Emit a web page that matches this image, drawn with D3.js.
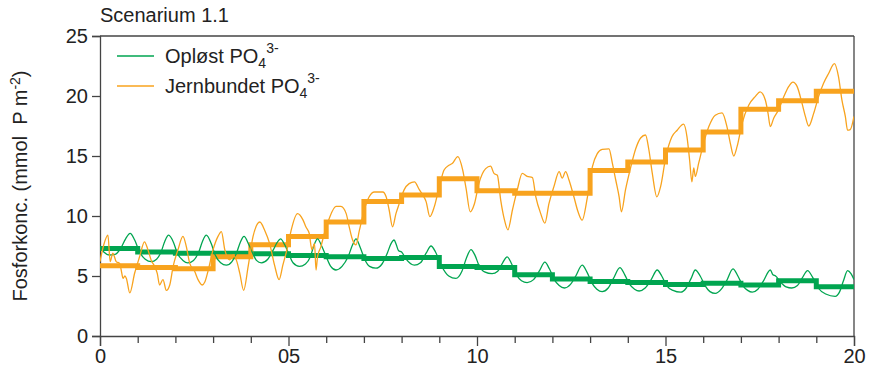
<!DOCTYPE html>
<html><head><meta charset="utf-8">
<script src="https://cdn.jsdelivr.net/npm/d3@7/dist/d3.min.js"></script>
<style>
html,body{margin:0;padding:0;background:#fff;}
svg text{font-family:"Liberation Sans",Arial,sans-serif;fill:#222;}
</style></head>
<body><svg id="c" width="874" height="373"></svg>
<script>
const title = "Scenarium 1.1";
const yTicks = [0, 5, 10, 15, 20, 25];
const xMajorTicks = [0, 5, 10, 15, 20];
const xTickLabels = ["0", "05", "10", "15", "20"];
const xMinorTicks = [1,2,3,4,6,7,8,9,11,12,13,14,16,17,18,19];
const seriesNames = ["Opløst PO", "Jernbundet PO"];
const seriesColors = ["#00a550", "#f8a31e"];

// annual means (step series), years 0..19
const dissolvedAnnual = [7.3, 7.0, 6.9, 6.9, 6.85, 6.7, 6.6, 6.45, 6.55, 5.8, 5.7, 5.1, 4.75, 4.55, 4.45, 4.3, 4.4, 4.25, 4.6, 4.1];
const ironAnnual = [5.85, 5.7, 5.6, 6.6, 7.6, 8.3, 9.5, 11.2, 11.75, 13.1, 12.1, 11.9, 11.9, 13.8, 14.5, 15.5, 17.0, 18.9, 19.6, 20.4];

// seasonal series [year, value]
const dissolvedSeries = [
[0.00,7.4],[0.10,7.0],[0.25,6.75],[0.40,6.8],[0.55,7.3],[0.68,8.1],[0.80,8.55],[0.92,8.0],
[1.05,7.0],[1.20,6.4],[1.36,6.2],[1.50,6.4],[1.62,7.0],[1.72,7.9],[1.82,8.4],[1.95,7.8],
[2.05,6.9],[2.20,6.3],[2.33,6.1],[2.48,6.3],[2.62,7.0],[2.72,7.9],[2.82,8.4],[2.95,7.7],
[3.05,6.8],[3.20,6.1],[3.35,5.9],[3.50,6.2],[3.62,6.9],[3.72,7.8],[3.82,8.3],[3.95,7.6],
[4.05,6.9],[4.15,6.3],[4.28,6.1],[4.45,6.4],[4.60,7.2],[4.70,7.8],[4.79,8.1],[4.90,7.6],
[5.00,6.9],[5.12,6.1],[5.29,5.8],[5.45,6.0],[5.58,6.6],[5.68,7.6],[5.77,8.1],[5.88,7.5],
[6.00,6.6],[6.12,5.8],[6.26,5.5],[6.42,5.8],[6.58,6.6],[6.70,7.6],[6.79,8.1],[6.90,7.4],
[7.02,6.4],[7.15,5.8],[7.32,5.65],[7.48,6.0],[7.62,6.9],[7.72,7.7],[7.80,8.0],[7.86,7.6],[7.92,7.1],
[8.00,7.0],[8.12,6.4],[8.34,5.9],[8.50,6.1],[8.65,6.9],[8.78,7.5],[8.90,7.0],
[9.05,5.9],[9.25,5.0],[9.44,4.8],[9.60,5.4],[9.72,6.5],[9.84,7.2],[9.95,6.7],
[10.05,5.9],[10.20,5.35],[10.40,5.2],[10.55,5.4],[10.68,6.1],[10.80,6.6],[10.92,6.0],
[11.05,5.1],[11.18,4.6],[11.33,4.45],[11.50,4.7],[11.65,5.4],[11.80,6.15],[11.92,5.6],
[12.05,4.7],[12.18,4.2],[12.32,4.0],[12.48,4.3],[12.62,5.0],[12.79,5.9],[12.92,5.3],
[13.05,4.4],[13.18,3.9],[13.32,3.7],[13.48,4.0],[13.62,4.8],[13.79,5.7],[13.92,5.1],
[14.05,4.3],[14.18,3.9],[14.30,3.75],[14.46,4.0],[14.62,4.7],[14.78,5.5],[14.90,5.0],
[15.03,4.2],[15.20,3.8],[15.40,3.65],[15.55,4.0],[15.68,4.8],[15.79,5.5],[15.92,5.0],
[16.05,4.2],[16.18,3.7],[16.32,3.55],[16.48,3.9],[16.62,4.6],[16.79,5.6],[16.92,5.0],
[17.05,4.2],[17.18,3.8],[17.30,3.65],[17.45,3.9],[17.60,4.6],[17.78,5.5],[17.85,5.1],[17.92,5.0],
[18.05,4.5],[18.20,4.1],[18.35,4.0],[18.50,4.2],[18.62,4.8],[18.77,5.45],[18.90,4.9],
[19.05,4.0],[19.25,3.5],[19.50,3.3],[19.62,3.7],[19.72,4.6],[19.83,5.45],[19.92,5.2],[20.00,4.7]
];
const ironSeries = [
[0.00,6.2],[0.10,7.6],[0.21,8.4],[0.27,6.2],[0.34,6.9],[0.43,6.2],[0.52,6.05],[0.58,5.2],[0.61,4.8],[0.66,5.0],[0.70,4.8],[0.79,3.6],[0.92,5.25],
[1.05,6.6],[1.18,7.85],[1.27,7.2],[1.36,6.3],[1.45,5.8],[1.52,5.2],[1.58,4.25],[1.67,4.7],[1.76,3.8],[1.85,4.25],[1.94,5.8],
[2.07,7.2],[2.20,8.3],[2.29,7.45],[2.38,6.05],[2.51,5.4],[2.60,4.7],[2.71,4.25],[2.78,4.5],[2.86,5.35],
[3.00,7.2],[3.13,8.3],[3.22,8.7],[3.31,7.2],[3.44,6.35],[3.53,6.75],[3.62,6.3],[3.71,5.2],[3.81,3.8],[3.93,5.8],
[4.06,8.3],[4.24,9.5],[4.37,8.8],[4.50,7.7],[4.63,5.9],[4.75,4.7],[4.85,5.9],[4.99,7.6],
[5.07,8.8],[5.24,10.2],[5.38,9.7],[5.46,9.1],[5.55,8.55],[5.62,7.2],[5.69,7.7],[5.73,5.5],[5.77,6.6],[5.86,7.45],[5.95,8.55],
[6.08,9.8],[6.26,10.8],[6.39,10.8],[6.53,10.2],[6.61,9.1],[6.70,8.0],[6.79,7.6],[6.88,8.8],
[7.01,10.5],[7.14,11.6],[7.28,12.0],[7.50,12.0],[7.59,11.6],[7.67,10.5],[7.76,9.1],[7.85,10.2],[7.94,11.05],
[8.07,12.2],[8.20,12.7],[8.34,12.85],[8.47,12.2],[8.56,11.75],[8.65,11.2],[8.75,9.95],[8.87,10.8],
[9.00,12.45],[9.13,13.85],[9.27,14.25],[9.35,14.4],[9.49,14.95],[9.62,13.85],[9.71,12.3],[9.82,10.35],[9.93,11.0],
[10.05,12.7],[10.23,13.95],[10.36,14.15],[10.45,13.55],[10.54,13.4],[10.63,11.3],[10.73,9.65],[10.82,8.85],[10.94,10.5],
[11.07,12.2],[11.20,13.55],[11.33,13.3],[11.47,13.2],[11.56,11.6],[11.69,10.2],[11.80,9.4],[11.91,11.05],
[12.04,12.45],[12.18,13.7],[12.26,13.15],[12.35,13.7],[12.44,13.0],[12.57,11.6],[12.68,10.35],[12.79,9.65],[12.93,11.6],
[13.06,14.1],[13.19,15.2],[13.32,15.55],[13.50,15.6],[13.59,14.4],[13.68,13.0],[13.77,11.6],[13.83,10.35],[13.94,12.2],
[14.08,14.1],[14.21,15.6],[14.34,16.5],[14.47,16.75],[14.56,15.5],[14.65,13.55],[14.77,11.6],[14.87,12.45],
[15.01,14.95],[15.17,16.6],[15.31,17.15],[15.48,17.65],[15.57,16.6],[15.64,14.65],[15.70,12.85],[15.75,14.0],[15.79,13.3],[15.88,14.4],
[16.01,16.05],[16.15,17.45],[16.32,18.4],[16.50,18.6],[16.63,17.45],[16.72,16.05],[16.81,15.0],[16.90,15.8],
[17.03,17.7],[17.21,19.25],[17.38,19.95],[17.51,20.35],[17.65,19.65],[17.72,18.55],[17.78,17.45],[17.87,18.15],
[18.00,18.85],[18.14,19.95],[18.27,20.8],[18.38,21.15],[18.49,20.8],[18.62,19.4],[18.71,18.3],[18.80,17.5],[18.93,18.55],
[19.06,19.95],[19.19,21.05],[19.33,21.9],[19.48,22.7],[19.59,21.6],[19.68,19.65],[19.77,18.3],[19.83,17.15],[19.90,17.2],[20.00,18.3]
];

const svg = d3.select("#c");
const x = d3.scaleLinear().domain([0, 20]).range([100, 854]);
const y = d3.scaleLinear().domain([0, 25]).range([336, 36]);
const axisColor = "#444";

// frame: top and right
svg.append("line").attr("x1", x(0)).attr("x2", x(20)).attr("y1", y(25)).attr("y2", y(25)).attr("stroke", axisColor).attr("stroke-width", 1.3);
svg.append("line").attr("x1", x(20)).attr("x2", x(20)).attr("y1", y(25)).attr("y2", y(0)).attr("stroke", axisColor).attr("stroke-width", 1.3);

// y axis
const yAxis = d3.axisLeft(y).tickValues(yTicks).tickSize(8).tickPadding(4).tickFormat(d3.format("d"));
const gy = svg.append("g").attr("transform", `translate(${x(0)},0)`).call(yAxis);
gy.select(".domain").attr("stroke", axisColor).attr("stroke-width", 1.3);
gy.selectAll(".tick line").attr("stroke", axisColor).attr("stroke-width", 1.3);
gy.selectAll("text").attr("font-size", 20).attr("fill", "#222");

// x axis major
const xAxis = d3.axisBottom(x).tickValues(xMajorTicks).tickSize(10).tickPadding(3).tickFormat((d, i) => xTickLabels[i]);
const gx = svg.append("g").attr("transform", `translate(0,${y(0)})`).call(xAxis);
gx.select(".domain").attr("stroke", axisColor).attr("stroke-width", 1.3);
gx.selectAll(".tick line").attr("stroke", axisColor).attr("stroke-width", 1.3);
gx.selectAll("text").attr("font-size", 20).attr("fill", "#222");
// x minor ticks
const xMinor = d3.axisBottom(x).tickValues(xMinorTicks).tickSize(7).tickFormat("");
const gxm = svg.append("g").attr("transform", `translate(0,${y(0)})`).call(xMinor);
gxm.select(".domain").remove();
gxm.selectAll(".tick line").attr("stroke", axisColor).attr("stroke-width", 1.3);

// clip
svg.append("clipPath").attr("id", "clip").append("rect").attr("x", x(0)).attr("y", y(25)).attr("width", x(20) - x(0)).attr("height", y(0) - y(25));
const plot = svg.append("g").attr("clip-path", "url(#clip)");

const stepLine = d3.line().x(d => x(d[0])).y(d => y(d[1])).curve(d3.curveStepAfter);
const thinLine = d3.line().x(d => x(d[0])).y(d => y(d[1])).curve(d3.curveMonotoneX);
const toSteps = arr => arr.map((v, i) => [i, v]).concat([[arr.length, arr[arr.length - 1]]]);

plot.append("path").datum(toSteps(dissolvedAnnual)).attr("d", stepLine).attr("fill", "none").attr("stroke", seriesColors[0]).attr("stroke-width", 5);
plot.append("path").datum(toSteps(ironAnnual)).attr("d", stepLine).attr("fill", "none").attr("stroke", seriesColors[1]).attr("stroke-width", 5);
plot.append("path").datum(dissolvedSeries).attr("d", thinLine).attr("fill", "none").attr("stroke", seriesColors[0]).attr("stroke-width", 1.3).attr("stroke-linejoin", "round");
plot.append("path").datum(ironSeries).attr("d", thinLine).attr("fill", "none").attr("stroke", seriesColors[1]).attr("stroke-width", 1.3).attr("stroke-linejoin", "round");

// title
svg.append("text").attr("x", 100).attr("y", 22).attr("font-size", 20).text(title);

// y label
const yl = svg.append("text").attr("transform", `translate(27,${(y(0)+y(25))/2}) rotate(-90)`).attr("text-anchor", "middle").attr("font-size", 20);
yl.append("tspan").text("Fosforkonc. (mmol\u00a0\u00a0P m");
yl.append("tspan").attr("font-size", 14).attr("dy", -7).text("-2");
yl.append("tspan").attr("dy", 7).text(")");

// legend
const legendY = [56, 86];
seriesNames.forEach((name, i) => {
  svg.append("line").attr("x1", 117).attr("x2", 154).attr("y1", legendY[i]).attr("y2", legendY[i]).attr("stroke", seriesColors[i]).attr("stroke-width", 1.3);
  const t = svg.append("text").attr("x", 165).attr("y", legendY[i] + 7).attr("font-size", 20);
  t.append("tspan").text(name);
  t.append("tspan").attr("font-size", 14).attr("dy", 5).text("4");
  t.append("tspan").attr("font-size", 14).attr("dy", -15).text("3-");
});
</script></body></html>
